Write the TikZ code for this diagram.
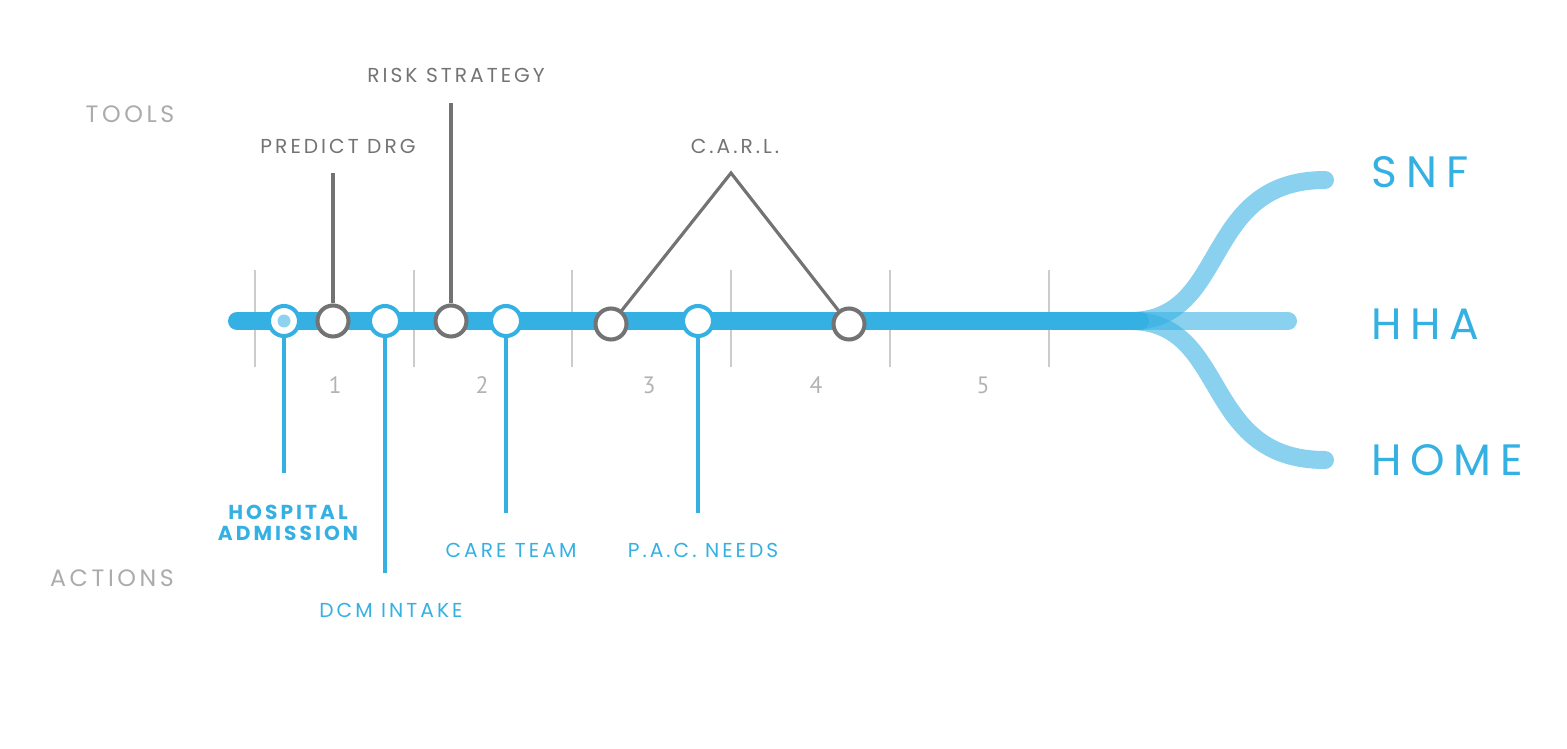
\documentclass[tikz,border=0pt]{standalone}
\usepackage{fontspec}
\setmainfont{Poppins}
\newfontfamily\labelfont[LetterSpace=15]{Poppins}
\newfontfamily\bigfont[LetterSpace=20]{Poppins}
\newfontfamily\numfont{PT Sans}
\definecolor{lineblue}{HTML}{35B0E3}
\definecolor{paleblue}{HTML}{8DD3F0}
\definecolor{stemgray}{HTML}{737373}
\definecolor{headgray}{HTML}{ABABAB}
\definecolor{gridgray}{HTML}{CCCCCC}
\definecolor{numgray}{HTML}{B3B3B3}

\begin{document}
\begin{tikzpicture}[x=0.02cm, y=-0.02cm,
  bluestop/.style={circle, draw=lineblue, fill=white, line width=2.3pt,
                   minimum size=0.6cm, inner sep=0pt},
  graystop/.style={circle, draw=stemgray, fill=white, line width=2.3pt,
                   minimum size=0.62cm, inner sep=0pt},
  bluestem/.style={draw=lineblue, line width=1.8pt},
  graystem/.style={draw=stemgray, line width=1.8pt},
  gridline/.style={draw=gridgray, line width=0.6pt},
  toollabel/.style={font=\labelfont\fontsize{11.5}{13}\selectfont, text=stemgray},
  actlabel/.style={font=\labelfont\fontsize{11.5}{13}\selectfont, text=lineblue},
  rowlabel/.style={font=\labelfont\fontsize{13.5}{15}\selectfont, text=headgray},
  numlabel/.style={font=\numfont\fontsize{13.5}{15}\selectfont, text=numgray},
  endlabel/.style={font=\bigfont\fontsize{25}{28}\selectfont, text=lineblue},
  branch/.style={draw=lineblue, opacity=0.58, line width=0.36cm, line cap=round}]

\useasboundingbox (0,0) rectangle (1567,749);

% week grid
\draw[gridline] (255,270) -- (255,367);
\draw[gridline] (414,270) -- (414,367);
\draw[gridline] (572,270) -- (572,367);
\draw[gridline] (731,270) -- (731,367);
\draw[gridline] (890,270) -- (890,367);
\draw[gridline] (1049,270) -- (1049,367);
\node[numlabel] (n1) at (335,385) {1};
\node[numlabel] (n2) at (482,385) {2};
\node[numlabel] (n3) at (649,385) {3};
\node[numlabel] (n4) at (816,385) {4};
\node[numlabel] (n5) at (983,385) {5};

% timeline
\coordinate (start) at (237,321);
\coordinate (fork) at (1140,321);
\coordinate (snfend) at (1325,180);
\coordinate (hhaend) at (1288,321);
\coordinate (homeend) at (1325,460);
\draw[draw=lineblue, line width=0.36cm, line cap=round] (start) -- (fork);
\draw[branch] (1100,321) -- (1130,321) .. controls (1230,321) and (1200,180) .. (snfend);
\draw[branch] (1100,321) -- (hhaend);
\draw[branch] (1100,321) -- (1130,321) .. controls (1230,321) and (1200,460) .. (homeend);

% stops
\node[bluestop] (admit) at (284,321) {};
\fill[paleblue] (admit.center) circle (0.13cm);
\node[graystop] (pdrg) at (333,321) {};
\node[bluestop] (dcm) at (385,321) {};
\node[graystop] (risk) at (451,321) {};
\node[bluestop] (care) at (506,321) {};
\node[graystop] (carla) at (611,324) {};
\node[bluestop] (pac) at (698,321) {};
\node[graystop] (carlb) at (849,324) {};

% tools
\coordinate (pdrgtop) at (333,173);
\coordinate (risktop) at (451,103);
\coordinate (carltop) at (731,173);
\draw[graystem] (pdrg) -- (pdrgtop);
\draw[graystem] (risk) -- (risktop);
\draw[graystem, line join=miter] (carla) -- (carltop) -- (carlb);
\node[toollabel] (pdrglabel) at (338,146) {PREDICT DRG};
\node[toollabel] (risklabel) at (456,75) {RISK STRATEGY};
\node[toollabel] (carllabel) at (735,146) {C.A.R.L.};

% actions
\coordinate (admitend) at (284,473);
\coordinate (dcmend) at (385,573);
\coordinate (careend) at (506,513);
\coordinate (pacend) at (698,513);
\draw[bluestem] (admit) -- (admitend);
\draw[bluestem] (dcm) -- (dcmend);
\draw[bluestem] (care) -- (careend);
\draw[bluestem] (pac) -- (pacend);
\node[actlabel, font=\labelfont\bfseries\fontsize{11.5}{13}\selectfont, align=center]
  (admitlabel) at (288,523) {HOSPITAL\\[-1pt]ADMISSION};
\node[actlabel] (dcmlabel) at (391,610) {DCM INTAKE};
\node[actlabel] (carelabel) at (511,550) {CARE TEAM};
\node[actlabel] (paclabel) at (703,550) {P.A.C. NEEDS};

% rows
\node[rowlabel] (tools) at (130,114) {TOOLS};
\node[rowlabel] (actions) at (112,578) {ACTIONS};

% outcomes
\node[endlabel] (snf) at (1420,172) {SNF};
\node[endlabel] (hha) at (1425,324) {HHA};
\node[endlabel] (home) at (1447,460) {HOME};
\end{tikzpicture}
\end{document}
